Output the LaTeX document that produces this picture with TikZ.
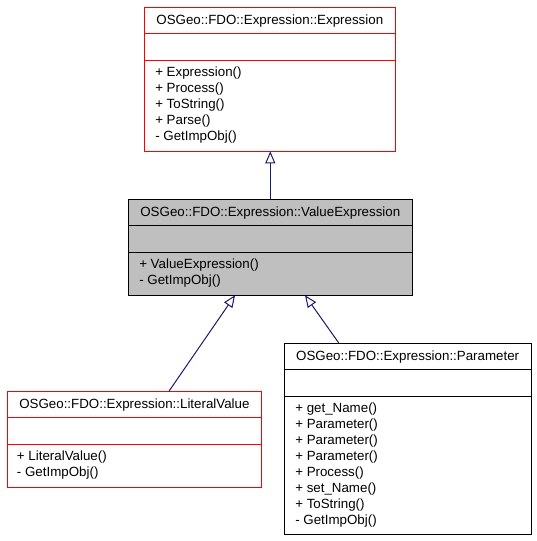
\documentclass[tikz,border=0pt]{standalone}
\usepackage{fontspec}
\setmainfont{Liberation Sans}
\usetikzlibrary{arrows.meta,calc}
\definecolor{edgeblue}{HTML}{191970}
\definecolor{boxgray}{HTML}{BFBFBF}
\begin{document}
\begin{tikzpicture}[x=0.75pt,y=-0.75pt,
        classbox/.style={draw,line width=0.75pt,anchor=north west,inner sep=0pt,outer sep=0pt},
        classtitle/.style={anchor=mid,inner sep=0pt,font=\fontsize{10}{12}\selectfont},
        member/.style={anchor=mid west,inner sep=0pt,font=\fontsize{10}{12}\selectfont},
        inherit/.style={edgeblue,line width=0.75pt,-{Triangle[open,length=9pt,width=7.5pt]}}]
        \useasboundingbox (0,0) rectangle (536,541);

        % base class
        \node[classbox,red,minimum width=251*0.75pt,minimum height=144*0.75pt](expr)at(144.3,7.3){};
        \draw[red,line width=0.75pt]($(expr.north west)+(0,26)$)--($(expr.north east)+(0,26)$);
        \draw[red,line width=0.75pt]($(expr.north west)+(0,53)$)--($(expr.north east)+(0,53)$);
        \node[classtitle](exprname)at($(expr.north)+(0,13.5)$){OSGeo::FDO::Expression::Expression};
        \foreach \m [count=\i,evaluate=\i as \yy using 66+16*(\i-1)] in {+ Expression(),+ Process(),+ ToString(),+ Parse(),- GetImpObj()}
            \node[member](exprm\i)at($(expr.north west)+(10.7,\yy)$){\m};

        % value expression
        \node[classbox,fill=boxgray,minimum width=284*0.75pt,minimum height=96*0.75pt](valexpr)at(128.3,199.3){};
        \draw[line width=0.75pt]($(valexpr.north west)+(0,26)$)--($(valexpr.north east)+(0,26)$);
        \draw[line width=0.75pt]($(valexpr.north west)+(0,53)$)--($(valexpr.north east)+(0,53)$);
        \node[classtitle](valexprname)at($(valexpr.north)+(0,13.5)$){OSGeo::FDO::Expression::ValueExpression};
        \foreach \m [count=\i,evaluate=\i as \yy using 66+16*(\i-1)] in {+ ValueExpression(),- GetImpObj()}
            \node[member](valexprm\i)at($(valexpr.north west)+(10.7,\yy)$){\m};

        % literal value
        \node[classbox,red,minimum width=254.2*0.75pt,minimum height=96*0.75pt](literal)at(7.3,391.3){};
        \draw[red,line width=0.75pt]($(literal.north west)+(0,26)$)--($(literal.north east)+(0,26)$);
        \draw[red,line width=0.75pt]($(literal.north west)+(0,53)$)--($(literal.north east)+(0,53)$);
        \node[classtitle](literalname)at($(literal.north)+(0,13.5)$){OSGeo::FDO::Expression::LiteralValue};
        \foreach \m [count=\i,evaluate=\i as \yy using 66+16*(\i-1)] in {+ LiteralValue(),- GetImpObj()}
            \node[member](literalm\i)at($(literal.north west)+(9.4,\yy)$){\m};

        % parameter
        \node[classbox,minimum width=246.7*0.75pt,minimum height=191*0.75pt](param)at(284.3,343.5){};
        \draw[line width=0.75pt]($(param.north west)+(0,25.5)$)--($(param.north east)+(0,25.5)$);
        \draw[line width=0.75pt]($(param.north west)+(0,52.5)$)--($(param.north east)+(0,52.5)$);
        \node[classtitle](paramname)at($(param.north)+(0,13.5)$){OSGeo::FDO::Expression::Parameter};
        \foreach \m [count=\i,evaluate=\i as \yy using 65.5+16*(\i-1)] in {+ get\_Name(),+ Parameter(),+ Parameter(),+ Parameter(),+ Process(),+ set\_Name(),+ ToString(),- GetImpObj()}
            \node[member](paramm\i)at($(param.north west)+(10.7,\yy)$){\m};

        \draw[inherit](valexpr.north)--(valexpr.north|-expr.south);
        \draw[inherit]($(literal.north)+(34.5,0)$)--($(valexpr.south)+(-35.3,0)$);
        \draw[inherit]($(param.north)+(-68.5,0)$)--($(valexpr.south)+(34.7,0)$);
    \end{tikzpicture}
\end{document}
